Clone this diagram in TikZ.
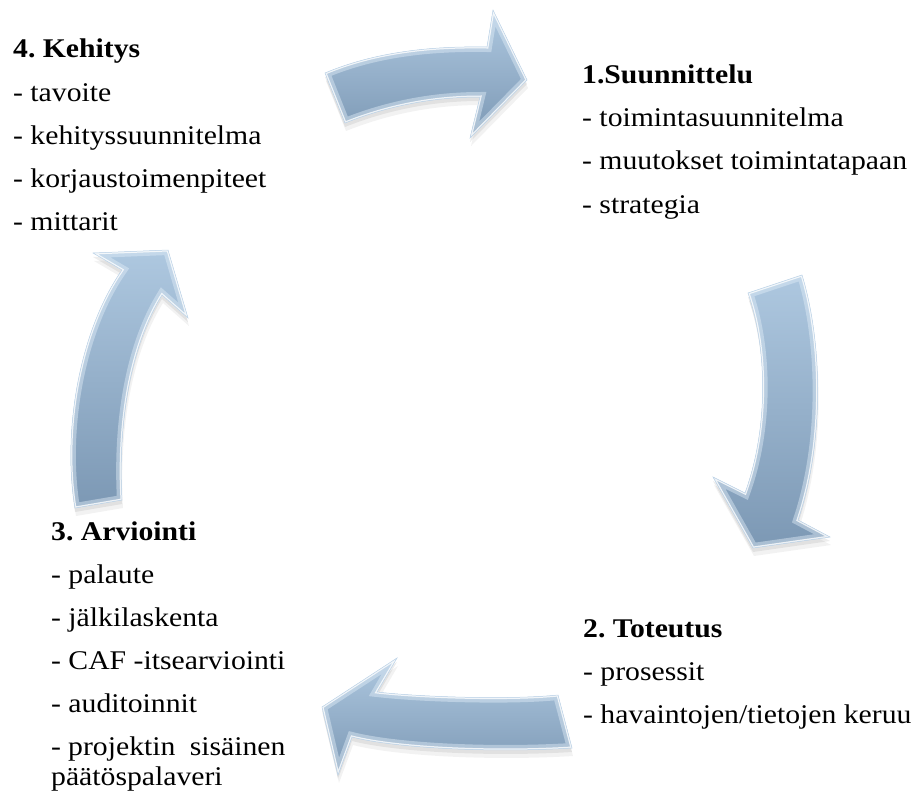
\documentclass[tikz,border=0pt]{standalone}
\usepackage{fontspec}
\setmainfont{Liberation Serif}[FakeStretch=1.1]
\definecolor{arrtop}{RGB}{174,200,224}
\definecolor{arrbot}{RGB}{124,152,180}
\definecolor{arrhi}{RGB}{226,238,248}
\definecolor{arredge}{RGB}{190,212,232}
\newlength\caflen
% curved block arrow: soft shadow, vertical shading, bevelled rim
\newcommand\cyclearrow[1]{%
  \fill[black,opacity=.05,shift={(1,8)}] #1;
  \fill[black,opacity=.07,shift={(0,4)}] #1;
  \shade[top color=arrtop,bottom color=arrbot] #1;
  \begin{scope}
    \clip #1;
    \draw[arrhi,line width=10pt,opacity=.45] #1;
    \draw[white,line width=3pt,opacity=.8] #1;
  \end{scope}
  \draw[arredge,line width=.5pt] #1;}
\begin{document}
\frenchspacing
\settowidth\caflen{\fontsize{27}{30}\selectfont - CAF -itsearviointi}
\begin{tikzpicture}[x=1pt,y=-1pt,
  item/.style={anchor=base west,inner sep=0pt,font=\fontsize{27}{30}\selectfont},
  head/.style={item,font=\fontsize{27}{30}\selectfont\bfseries}]
\path[use as bounding box] (0,0) rectangle (917,793);

% top arrow (towards planning)
\cyclearrow{(325,73) .. controls (375,52) and (430,46) .. (487,47) -- (493,10) -- (527,80) -- (470,138) -- (480,97) .. controls (430,97) and (385,107) .. (345,123) -- cycle}
% right arrow (towards implementation)
\cyclearrow{(748,293) -- (802,275) .. controls (822,340) and (825,440) .. (798,520) -- (830,537) -- (753,548) -- (713,477) -- (745,493) .. controls (768,430) and (768,350) .. (748,293) -- cycle}
% bottom arrow (towards evaluation)
\cyclearrow{(558,695) .. controls (510,700) and (420,697) .. (377,692) -- (397,658) -- (322,707) -- (338,775) -- (352,737) .. controls (395,748) and (490,753) .. (572,748) -- cycle}
% left arrow (towards development)
\cyclearrow{(75,508) .. controls (62,430) and (80,330) .. (122,270) -- (93,253) -- (168,250) -- (188,318) -- (162,295) .. controls (128,350) and (118,430) .. (122,500) -- cycle}

% 4. Kehitys
\node[head] (k0) at (13,57) {4. Kehitys};
\node[item] (k1) at (13,101) {- tavoite};
\node[item] (k2) at (13,144) {- kehityssuunnitelma};
\node[item] (k3) at (13,187) {- korjaustoimenpiteet};
\node[item] (k4) at (13,230) {- mittarit};

% 1. Suunnittelu
\node[head] (s0) at (582,83) {1.Suunnittelu};
\node[item] (s1) at (582,126) {- toimintasuunnitelma};
\node[item] (s2) at (582,169) {- muutokset toimintatapaan};
\node[item] (s3) at (582,213) {- strategia};

% 2. Toteutus
\node[head] (t0) at (583,637) {2. Toteutus};
\node[item] (t1) at (583,680) {- prosessit};
\node[item] (t2) at (583,723) {- havaintojen/tietojen keruu};

% 3. Arviointi
\node[head] (a0) at (51,540) {3. Arviointi};
\node[item] (a1) at (51,583) {- palaute};
\node[item] (a2) at (51,626) {- jälkilaskenta};
\node[item] (a3) at (51,669) {- CAF -itsearviointi};
\node[item] (a4) at (51,712) {- auditoinnit};
\node[item] (a5) at (51,755) {\makebox[\caflen][s]{- projektin\ \ sisäinen}};
\node[item] (a6) at (51,785) {päätöspalaveri};
\end{tikzpicture}
\end{document}
